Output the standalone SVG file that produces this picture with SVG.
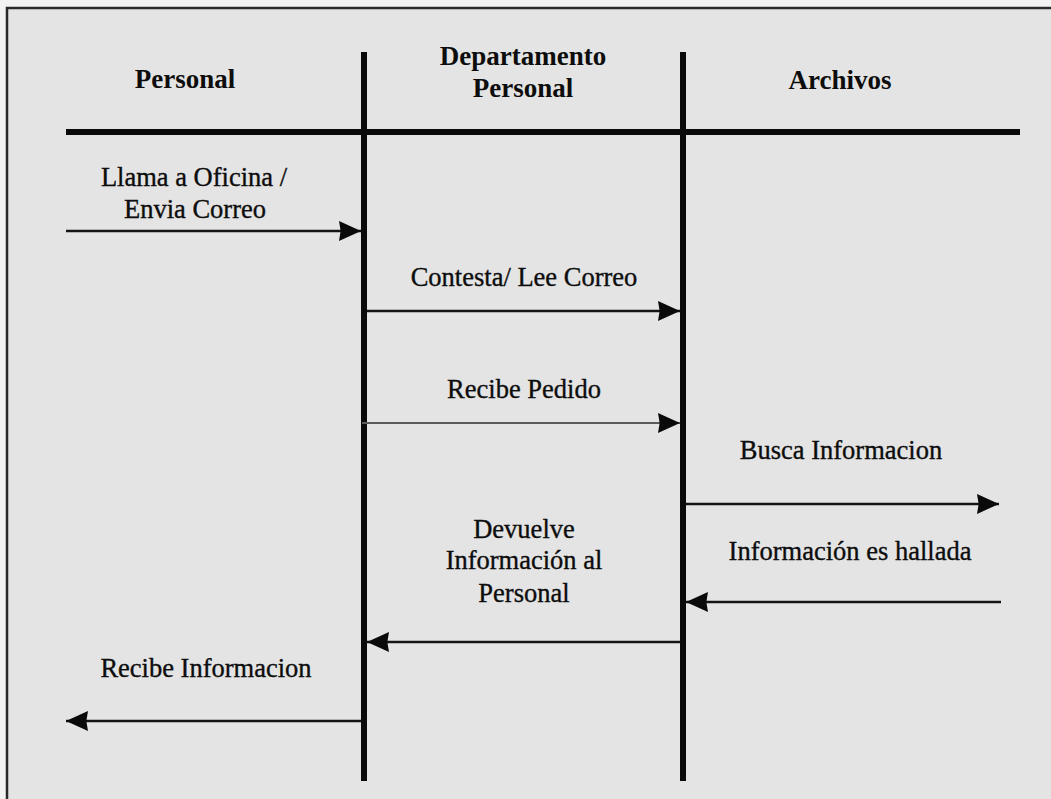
<svg xmlns="http://www.w3.org/2000/svg" width="1051" height="799" viewBox="0 0 1051 799">
  <style>
    .hdr { font-family: "Liberation Serif", "Times New Roman", serif; font-weight: bold; font-size: 27px; fill: #0d0d0d; text-anchor: middle; }
    .lbl { font-family: "Liberation Serif", "Times New Roman", serif; font-size: 26.5px; fill: #0d0d0d; stroke: #0d0d0d; stroke-width: 0.35; text-anchor: middle; }
    .life { stroke: #0a0a0a; stroke-width: 6; fill: none; }
    .msg { stroke: #141414; stroke-width: 2.6; fill: none; marker-end: url(#ah); }
    .msg-thin { stroke: #5a5a5a; stroke-width: 2; fill: none; marker-end: url(#ah); }
  </style>
  <defs>
    <marker id="ah" markerUnits="userSpaceOnUse" markerWidth="22" markerHeight="22" viewBox="0 0 20 20" refX="20" refY="10" orient="auto">
      <path d="M0,1 L20,10 L0,19 L1.5,10 z" fill="#0a0a0a"/>
    </marker>
  </defs>

  <!-- page background -->
  <rect x="0" y="0" width="1051" height="799" fill="#f3f3f3"/>
  <rect x="7" y="8" width="1060" height="810" fill="#e4e4e4" stroke="#2a2a2a" stroke-width="2.5"/>

  <!-- header separator -->
  <g id="header-line">
    <line x1="66" y1="132" x2="1020" y2="132" stroke="#0a0a0a" stroke-width="6"/>
  </g>

  <g id="lane-personal">
    <text class="hdr" x="185" y="88">Personal</text>
  </g>

  <g id="lane-departamento">
    <text class="hdr" x="523" y="65">Departamento</text>
    <text class="hdr" x="523" y="97">Personal</text>
    <line class="life" x1="364" y1="52" x2="364" y2="781"/>
  </g>

  <g id="lane-archivos">
    <text class="hdr" x="840" y="89">Archivos</text>
    <line class="life" x1="683" y1="52" x2="683" y2="781"/>
  </g>

  <g id="connectors">
    <line class="msg" x1="66" y1="231" x2="361" y2="231"/>
    <line class="msg" x1="367" y1="311" x2="680" y2="311"/>
    <line class="msg-thin" x1="362" y1="423" x2="680" y2="423"/>
    <line class="msg" x1="686" y1="504" x2="999" y2="504"/>
    <line class="msg" x1="1001" y1="602" x2="686" y2="602"/>
    <line class="msg" x1="680" y1="642" x2="367" y2="642"/>
    <line class="msg" x1="361" y1="721" x2="66" y2="721"/>
  </g>

  <g id="labels">
    <text class="lbl" x="194" y="186">Llama a Oficina /</text>
    <text class="lbl" x="195" y="218">Envia Correo</text>
    <text class="lbl" x="524" y="286">Contesta/ Lee Correo</text>
    <text class="lbl" x="524" y="398">Recibe Pedido</text>
    <text class="lbl" x="841" y="459">Busca Informacion</text>
    <text class="lbl" x="850" y="560">Información es hallada</text>
    <text class="lbl" x="524" y="538">Devuelve</text>
    <text class="lbl" x="524" y="569">Información al</text>
    <text class="lbl" x="524" y="602">Personal</text>
    <text class="lbl" x="206" y="677">Recibe Informacion</text>
  </g>
</svg>
